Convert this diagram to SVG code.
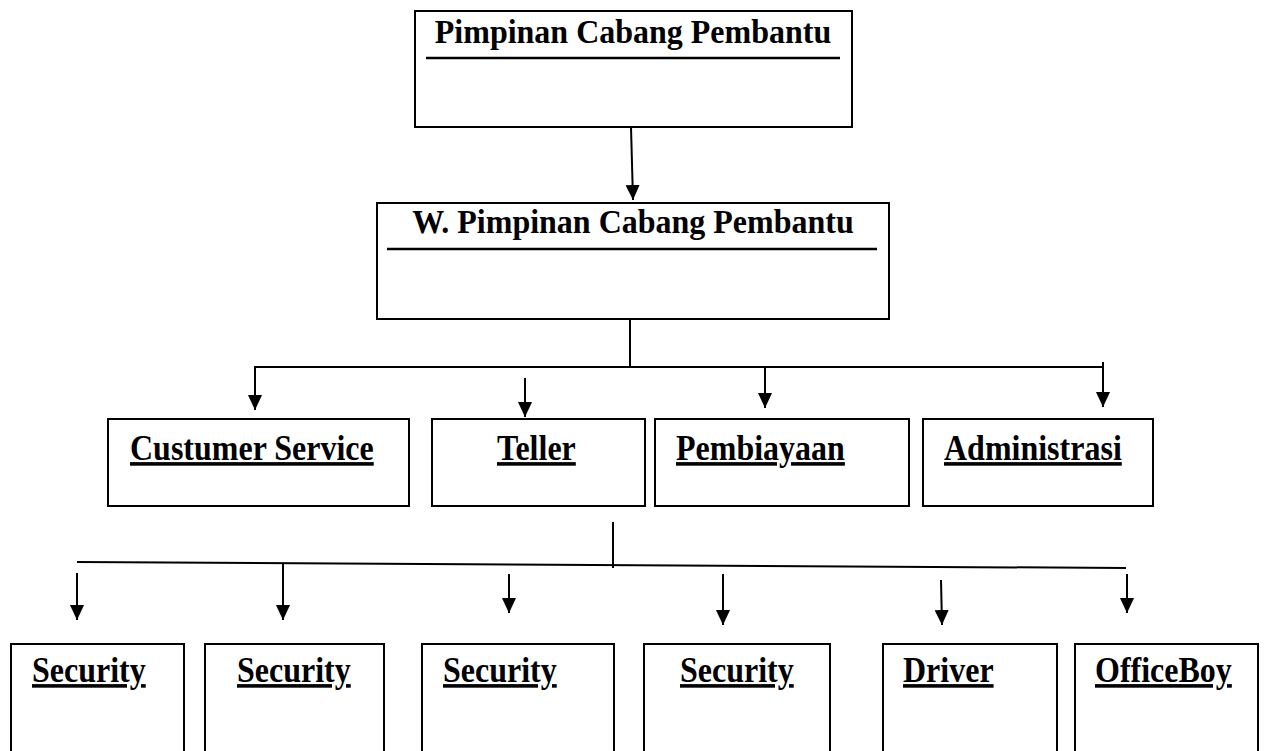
<svg xmlns="http://www.w3.org/2000/svg" width="1264" height="751" viewBox="0 0 1264 751">
<style>
.box{fill:#fff;stroke:#000;stroke-width:2}
.t{font-family:"Liberation Serif","Times New Roman",serif;font-weight:bold;font-size:32px;fill:#000}
.u{text-decoration:underline;text-decoration-thickness:3px}
.rule{stroke:#000;stroke-width:2.5}
.c{stroke:#000;stroke-width:2;fill:none}
</style>
<defs>
<marker id="ah" markerUnits="userSpaceOnUse" markerWidth="15" markerHeight="16" refX="16" refY="7.5" orient="auto" viewBox="0 0 16 15">
<path d="M0,0 L16,7.5 L0,15 Z" fill="#000"/>
</marker>
</defs>
<g id="pimpinan">
<rect class="box" x="415" y="11" width="437" height="116"/>
<text class="t" transform="translate(633,43) scale(1,1.05)" text-anchor="middle">Pimpinan Cabang Pembantu</text>
<line class="rule" x1="426" y1="58" x2="840" y2="58"/>
</g>
<g id="wakil">
<rect class="box" x="377" y="203" width="512" height="116"/>
<text class="t" transform="translate(633,233) scale(1,1.05)" text-anchor="middle">W. Pimpinan Cabang Pembantu</text>
<line class="rule" x1="387" y1="249" x2="877" y2="249"/>
</g>
<g id="cs">
<rect class="box" x="108" y="419" width="301" height="87"/>
<text class="t u" transform="translate(130,460) scale(1,1.12)">Custumer Service</text>
</g>
<g id="teller">
<rect class="box" x="432" y="419" width="213" height="87"/>
<text class="t u" transform="translate(497,460) scale(1,1.12)">Teller</text>
</g>
<g id="pembiayaan">
<rect class="box" x="655" y="419" width="254" height="87"/>
<text class="t u" transform="translate(676,460) scale(1,1.12)">Pembiayaan</text>
</g>
<g id="administrasi">
<rect class="box" x="923" y="419" width="230" height="87"/>
<text class="t u" transform="translate(944,460) scale(1,1.12)">Administrasi</text>
</g>
<g id="security1">
<rect class="box" x="11" y="644" width="173" height="120"/>
<text class="t u" transform="translate(32,682) scale(1,1.12)">Security</text>
</g>
<g id="security2">
<rect class="box" x="205" y="644" width="179" height="120"/>
<text class="t u" transform="translate(237,682) scale(1,1.12)">Security</text>
</g>
<g id="security3">
<rect class="box" x="422" y="644" width="192" height="120"/>
<text class="t u" transform="translate(443,682) scale(1,1.12)">Security</text>
</g>
<g id="security4">
<rect class="box" x="644" y="644" width="186" height="120"/>
<text class="t u" transform="translate(680,682) scale(1,1.12)">Security</text>
</g>
<g id="driver">
<rect class="box" x="883" y="644" width="174" height="120"/>
<text class="t u" transform="translate(903,682) scale(1,1.12)">Driver</text>
</g>
<g id="officeboy">
<rect class="box" x="1075" y="644" width="183" height="120"/>
<text class="t u" transform="translate(1095,682) scale(1,1.12)">OfficeBoy</text>
</g>
<g id="connectors">
<line class="c" x1="631" y1="127" x2="633" y2="200" marker-end="url(#ah)"/>
<line class="c" x1="630" y1="319" x2="630" y2="367"/>
<line class="c" x1="254" y1="367" x2="1104" y2="367"/>
<line class="c" x1="255" y1="367" x2="255" y2="410" marker-end="url(#ah)"/>
<line class="c" x1="525" y1="378" x2="525" y2="417" marker-end="url(#ah)"/>
<line class="c" x1="765" y1="367" x2="765" y2="408" marker-end="url(#ah)"/>
<line class="c" x1="1103" y1="362" x2="1103" y2="407" marker-end="url(#ah)"/>
<line class="c" x1="613" y1="522" x2="613" y2="568"/>
<line class="c" x1="77" y1="562" x2="1126" y2="568"/>
<line class="c" x1="77" y1="573" x2="77" y2="620" marker-end="url(#ah)"/>
<line class="c" x1="283" y1="563" x2="283" y2="620" marker-end="url(#ah)"/>
<line class="c" x1="509" y1="574" x2="509" y2="613" marker-end="url(#ah)"/>
<line class="c" x1="723" y1="574" x2="723" y2="625" marker-end="url(#ah)"/>
<line class="c" x1="941" y1="580" x2="942" y2="625" marker-end="url(#ah)"/>
<line class="c" x1="1127" y1="574" x2="1127" y2="613" marker-end="url(#ah)"/>
</g>
</svg>
